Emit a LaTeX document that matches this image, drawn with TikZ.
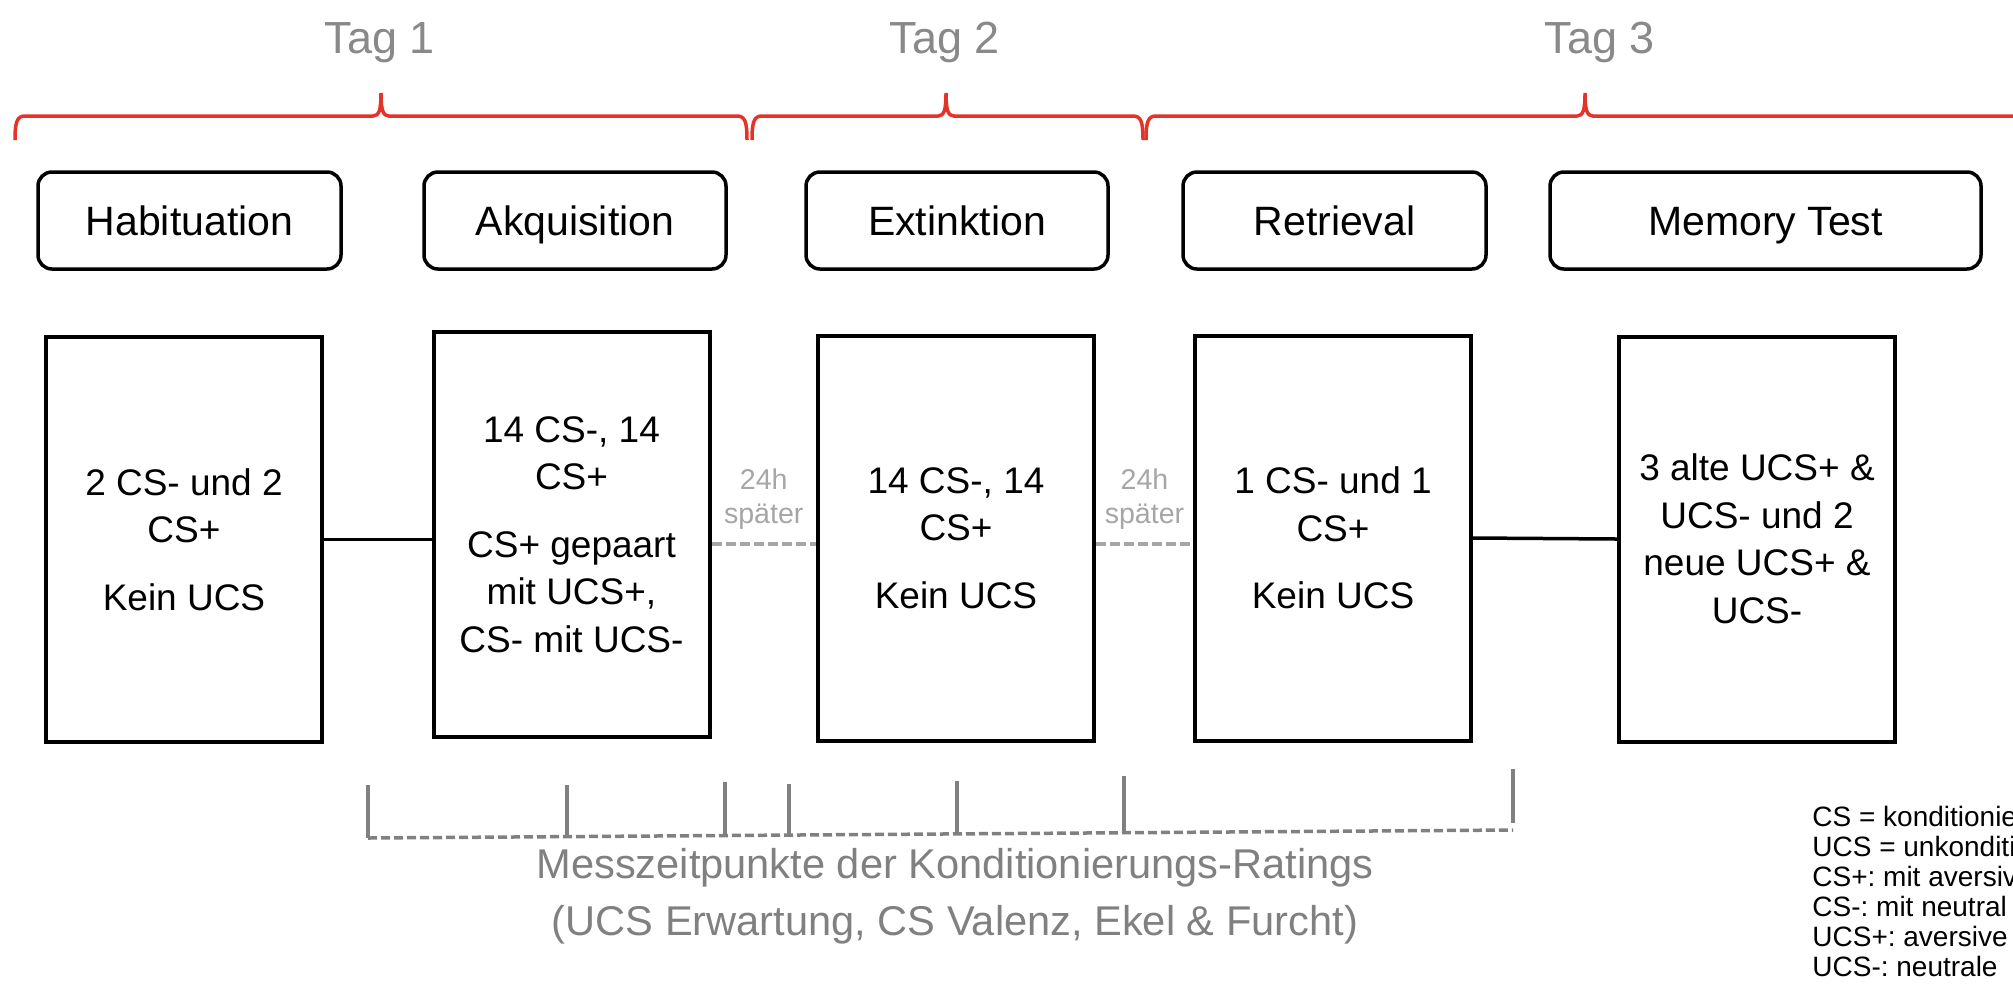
\documentclass[tikz,border=0pt]{standalone}
\usepackage{fontspec}
\setmainfont{Liberation Sans}
\usetikzlibrary{positioning}
\definecolor{bracered}{RGB}{228,52,42}
\definecolor{daygray}{RGB}{137,137,137}
\definecolor{markgray}{RGB}{128,128,128}
\definecolor{pausegray}{RGB}{166,166,166}
\frenchspacing

\begin{document}
\begin{tikzpicture}[x=0.5pt, y=-0.5pt,
    day/.style={text=daygray, font=\fontsize{22.5}{27}\selectfont, anchor=base},
    phase/.style={draw, rounded corners=7pt, line width=1.75pt, minimum height=48.5pt,
        font=\fontsize{20.5}{24}\selectfont, text height=14.7pt, text depth=0pt},
    stage/.style={draw, line width=2pt, minimum width=138pt, minimum height=202.5pt,
        align=center, font=\fontsize{18.5}{23.75}\selectfont},
    pause/.style={draw=pausegray, line width=2pt, dash pattern=on 5pt off 2pt},
    later/.style={text=pausegray, font=\fontsize{14.3}{17}\selectfont, align=center,
        inner sep=0pt, above=6.5pt},
    tick/.style={draw=markgray, line width=1.75pt},
    brace/.style={draw=bracered, line width=1.75pt}]
    \useasboundingbox (0,0) rectangle (2013,1003);

    \node[day]  (d1) at (380,53)   {Tag 1};
    \node[day]  (d2) at (945,53)   {Tag 2};
    \node[day]  (d3) at (1600,53)  {Tag 3};

    \draw[brace] (15,140) .. controls (15,122) and (17,116) .. (25,116) -- (373,116)
        .. controls (379,116) and (381,110) .. (381,93)
        .. controls (381,110) and (383,116) .. (389,116) -- (737,116)
        .. controls (745,116) and (747,122) .. (747,140);
    \draw[brace] (752,140) .. controls (752,122) and (754,116) .. (762,116) -- (938,116)
        .. controls (944,116) and (946,110) .. (946,93)
        .. controls (946,110) and (948,116) .. (954,116) -- (1133,116)
        .. controls (1141,116) and (1143,122) .. (1143,140);
    \draw[brace] (1146,140) .. controls (1146,122) and (1148,116) .. (1156,116) -- (1577,116)
        .. controls (1583,116) and (1585,110) .. (1585,93)
        .. controls (1585,110) and (1587,116) .. (1593,116) -- (2030,116);

    \node[phase, minimum width=151.5pt] (p1) at (189.5,220.5)  {Habituation};
    \node[phase, minimum width=151pt]   (p2) at (575,220.5)    {Akquisition};
    \node[phase, minimum width=151pt]   (p3) at (957,220.5)    {Extinktion};
    \node[phase, minimum width=151.5pt] (p4) at (1334.5,220.5) {Retrieval};
    \node[phase, minimum width=215.5pt] (p5) at (1765.5,220.5) {Memory Test};

    \node[stage] (b1) at (184,539.5) {2 CS- und 2\\CS+\\[10pt]Kein UCS};
    \node[stage] (b2) at (571.5,534.5) {14 CS-, 14\\CS+\\[10pt]CS+ gepaart\\mit UCS+,\\CS- mit UCS-};
    \node[stage] (b3) at (956,538) {14 CS-, 14\\CS+\\[10pt]Kein UCS};
    \node[stage] (b4) at (1333,538) {1 CS- und 1\\CS+\\[10pt]Kein UCS};
    \node[stage] (b5) at (1757,539) {3 alte UCS+ \&\\UCS- und 2\\neue UCS+ \&\\UCS-};

    \draw[line width=1.75pt] (b1.east) -- (b1.east -| b2.west);
    \draw[pause] ([yshift=-4.75pt]b2.east) -- node[later] {24h\\später} ([yshift=-3pt]b3.west);
    \draw[pause] ([yshift=-3pt]b3.east) -- node[later] {24h\\später} ([yshift=-3pt]b4.west);
    \draw[line width=1.75pt] (b4.east) -- (b5.west);

    \draw[tick] (368,785) -- (368,838);
    \draw[tick] (567,785) -- (567,836.6);
    \draw[tick] (725,782) -- (725,835.5);
    \draw[tick] (789,784) -- (789,835.1);
    \draw[tick] (957,781) -- (957,833.9);
    \draw[tick] (1124,776) -- (1124,832.7);
    \draw[tick] (1513,769) -- (1513,823);
    \draw[tick, dash pattern=on 4.5pt off 2pt] (368,838) -- (1513,830);

    \node[text=markgray, align=center, anchor=base, font=\fontsize{20.8}{28.5}\selectfont]
        (m) at (955,935) {Messzeitpunkte der Konditionierungs-Ratings\\(UCS Erwartung, CS Valenz, Ekel \& Furcht)};

    \node[align=left, anchor=base west, inner sep=0pt, font=\fontsize{14}{15}\selectfont]
        (key) at (1812,976) {CS = konditionie\\UCS = unkonditi\\CS+: mit aversiv\\CS-: mit neutral\\UCS+: aversive\\UCS-: neutrale};
\end{tikzpicture}
\end{document}
